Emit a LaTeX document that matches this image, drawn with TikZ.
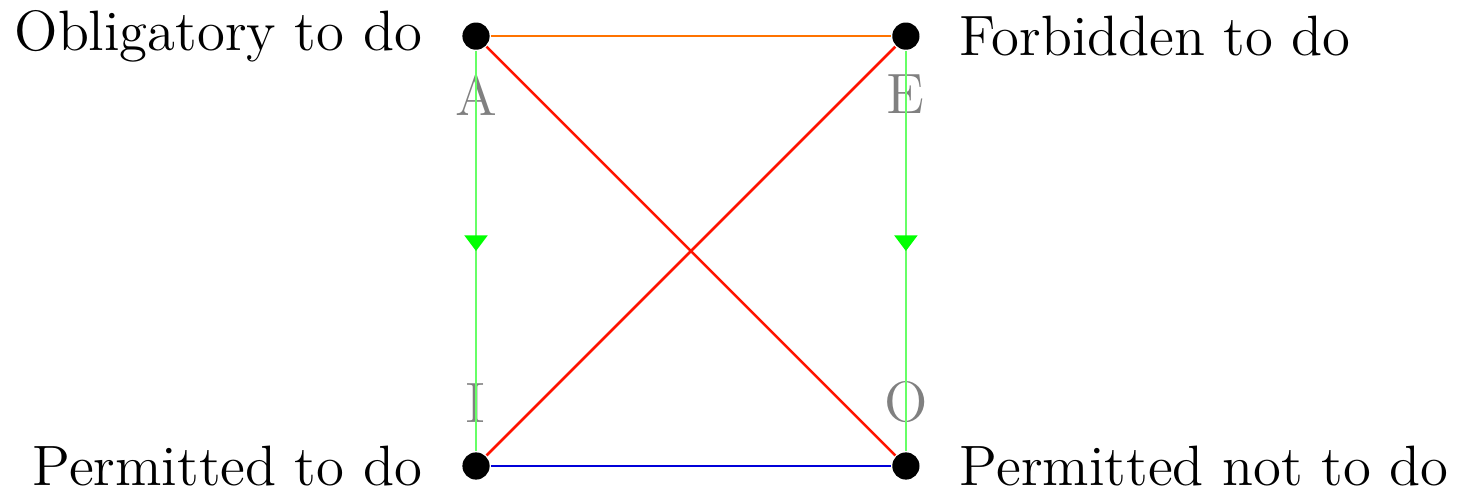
\documentclass[tikz,border=0pt]{standalone}
\usepackage{tikz}
\usetikzlibrary{positioning, arrows.meta, decorations.markings}

\tikzset{
  vertex/.style={circle, fill=black, inner sep=0pt, minimum size=0.19cm},
  caption/.style={inner sep=0pt, font=\fontsize{11.3}{13}\selectfont},
  corner/.style={inner sep=0pt, text=gray, font=\fontsize{11.3}{13}\selectfont},
  implies/.style={green!60, postaction={decorate},
    decoration={markings, mark=at position 0.5 with {\arrow[green]{Triangle[width=1.6mm, length=1.1mm]}}}}
}

\begin{document}
\begin{tikzpicture}[line width=0.5pt]
  \useasboundingbox (-3.322,-0.167) rectangle (6.846,3.252);

  % vertici del quadrato
  \node[vertex] (A) at (0,3) {};
  \node[vertex] (E) at (3,3) {};
  \node[vertex] (I) at (0,0) {};
  \node[vertex] (O) at (3,0) {};

  % lettere
  \node[corner, below=0.16cm of A] (lA) {A};
  \node[corner, below=0.16cm of E] (lE) {E};
  \node[corner, above=0.19cm of I] (lI) {I};
  \node[corner, above=0.19cm of O] (lO) {O};

  % etichette
  \node[caption, left=0.265cm of A] (tA) {Obligatory to do};
  \node[caption, right=0.265cm of E] (tE) {Forbidden to do};
  \node[caption, left=0.265cm of I] (tI) {Permitted to do};
  \node[caption, right=0.265cm of O] (tO) {Permitted not to do};

  % lati
  \draw[orange!90!red] (A) -- (E);
  \draw[blue!85!black] (I) -- (O);
  \draw[implies] (A) -- (I);
  \draw[implies] (E) -- (O);

  % diagonali
  \draw[red!85!orange] (A) -- (O);
  \draw[red!85!orange] (E) -- (I);
\end{tikzpicture}
\end{document}
